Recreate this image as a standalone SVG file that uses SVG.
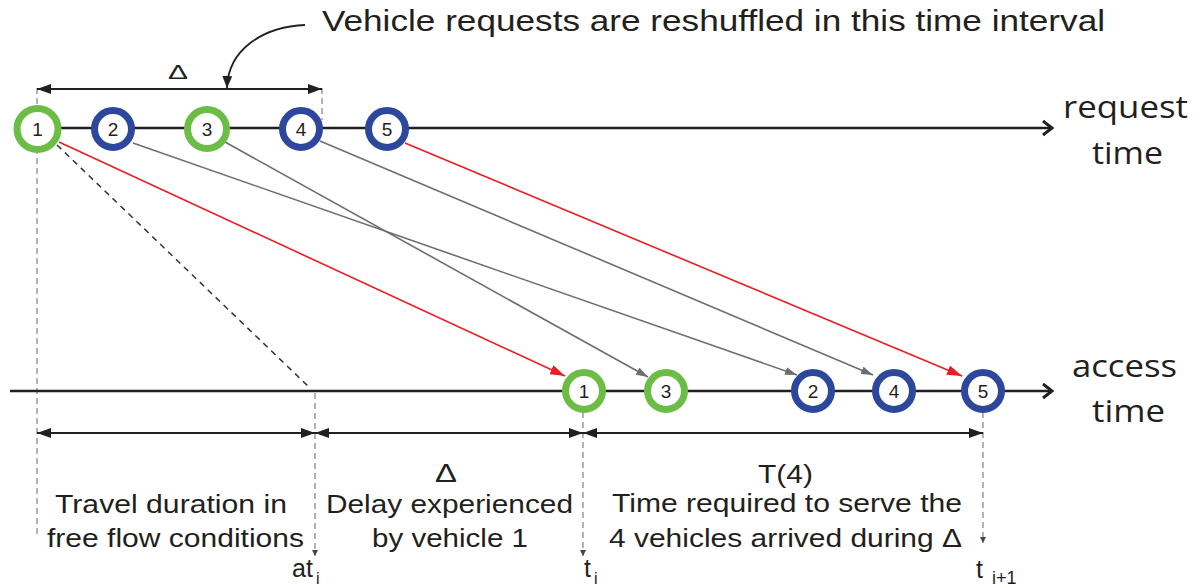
<svg xmlns="http://www.w3.org/2000/svg" width="1203" height="588" viewBox="0 0 1203 588">
  <style>
    .lbl { font-family: "Liberation Sans", Arial, sans-serif; fill: #231f20; }
    .axis-lbl { font-family: "Open Sans", "Noto Sans", sans-serif; fill: #231f20; font-size: 31px; text-anchor: middle; }
    .num { font-family: "Liberation Sans", Arial, sans-serif; font-size: 19px; fill: #231f20; text-anchor: middle; }
    .ring-g { fill: #ffffff; stroke: #6cbd45; stroke-width: 7; }
    .ring-b { fill: #ffffff; stroke: #2c479c; stroke-width: 7; }
    .guide { fill: none; stroke: #808080; stroke-width: 1.2; stroke-dasharray: 6 4; }
    .dim { fill: none; stroke: #231f20; stroke-width: 1.8; }
    .axis { fill: none; stroke: #231f20; stroke-width: 2.6; }
    .req-red { fill: none; stroke: #ec1c24; stroke-width: 1.6; }
    .req-gray { fill: none; stroke: #6d6e71; stroke-width: 1.6; }
  </style>
  <defs>
    <marker id="dimHead" viewBox="0 0 14 10" refX="14" refY="5" markerWidth="14" markerHeight="10" markerUnits="userSpaceOnUse" orient="auto-start-reverse">
      <path d="M0,0 L14,5 L0,10 z" fill="#231f20"/>
    </marker>
    <marker id="axisHead" viewBox="0 0 14 18" refX="11" refY="9" markerWidth="14" markerHeight="18" markerUnits="userSpaceOnUse" orient="auto">
      <path d="M2,2 L11,9 L2,16" fill="none" stroke="#231f20" stroke-width="3"/>
    </marker>
    <marker id="redHead" viewBox="0 0 15 10" refX="15" refY="5" markerWidth="15" markerHeight="10" markerUnits="userSpaceOnUse" orient="auto">
      <path d="M0,0 L15,5 L0,10 z" fill="#ec1c24"/>
    </marker>
    <marker id="grayHead" viewBox="0 0 12 8" refX="12" refY="4" markerWidth="12" markerHeight="8" markerUnits="userSpaceOnUse" orient="auto">
      <path d="M0,0 L12,4 L0,8 z" fill="#6d6e71"/>
    </marker>
    <marker id="curveHead" viewBox="0 0 12 10" refX="12" refY="5" markerWidth="12" markerHeight="10" markerUnits="userSpaceOnUse" orient="auto">
      <path d="M0,0 L12,5 L0,10 z" fill="#231f20"/>
    </marker>
    <marker id="tick" viewBox="0 0 6 6" refX="6" refY="3" markerWidth="6" markerHeight="6" markerUnits="userSpaceOnUse" orient="auto">
      <path d="M0,0 L6,3 L0,6 z" fill="#444"/>
    </marker>
  </defs>

  <rect x="0" y="0" width="1203" height="588" fill="#ffffff"/>

  <!-- heading with its curved pointer -->
  <text class="lbl" x="322" y="31" font-size="29" textLength="783" lengthAdjust="spacingAndGlyphs">Vehicle requests are reshuffled in this time interval</text>

  <g id="connectors">
    <!-- dashed guide lines -->
    <line class="guide" x1="37" y1="88" x2="37" y2="538"/>
    <line class="guide" x1="322" y1="88" x2="322" y2="120"/>
    <line class="guide" x1="315" y1="393" x2="315" y2="556" marker-end="url(#tick)"/>
    <line class="guide" x1="583" y1="412" x2="583" y2="556" marker-end="url(#tick)"/>
    <line class="guide" x1="983" y1="412" x2="983" y2="543" marker-end="url(#tick)"/>

    <!-- time axes -->
    <line class="axis" x1="40" y1="128" x2="1052" y2="128" marker-end="url(#axisHead)"/>
    <line class="axis" x1="10" y1="391" x2="1052" y2="391" marker-end="url(#axisHead)"/>

    <!-- interval dimensions -->
    <line class="dim" x1="37" y1="89" x2="322" y2="89" marker-start="url(#dimHead)" marker-end="url(#dimHead)"/>
    <line class="dim" x1="37" y1="433" x2="315" y2="433" marker-start="url(#dimHead)" marker-end="url(#dimHead)"/>
    <line class="dim" x1="315" y1="433" x2="583" y2="433" marker-start="url(#dimHead)" marker-end="url(#dimHead)"/>
    <line class="dim" x1="583" y1="433" x2="983" y2="433" marker-start="url(#dimHead)" marker-end="url(#dimHead)"/>

    <!-- pointer from the heading to the interval -->
    <path d="M305,25 C262,27 228,50 227,88" fill="none" stroke="#231f20" stroke-width="1.8" marker-end="url(#curveHead)"/>

    <!-- free flow travel of vehicle 1 -->
    <line x1="57" y1="145" x2="310" y2="388" fill="none" stroke="#333" stroke-width="1.5" stroke-dasharray="6 5"/>

    <!-- request to access mapping -->
    <line class="req-red" x1="59" y1="142" x2="565" y2="376" marker-end="url(#redHead)"/>
    <line class="req-gray" x1="133" y1="143" x2="797" y2="375" marker-end="url(#grayHead)"/>
    <line class="req-gray" x1="225" y1="142" x2="648" y2="377" marker-end="url(#grayHead)"/>
    <line class="req-gray" x1="320" y1="141" x2="873" y2="375" marker-end="url(#grayHead)"/>
    <line class="req-red" x1="405" y1="143" x2="962" y2="376" marker-end="url(#redHead)"/>
  </g>

  <!-- request time nodes -->
  <g id="req1"><circle class="ring-g" cx="37.5" cy="129" r="20.5"/><text class="num" x="37.5" y="136">1</text></g>
  <g id="req2"><circle class="ring-b" cx="113" cy="129" r="18.5"/><text class="num" x="113" y="136">2</text></g>
  <g id="req3"><circle class="ring-g" cx="207" cy="129" r="19.5"/><text class="num" x="207" y="136">3</text></g>
  <g id="req4"><circle class="ring-b" cx="301" cy="129" r="18.5"/><text class="num" x="301" y="136">4</text></g>
  <g id="req5"><circle class="ring-b" cx="387" cy="129" r="18.5"/><text class="num" x="387" y="136">5</text></g>

  <!-- access time nodes -->
  <g id="acc1"><circle class="ring-g" cx="584" cy="391" r="18.5"/><text class="num" x="584" y="398">1</text></g>
  <g id="acc3"><circle class="ring-g" cx="666" cy="391" r="18.5"/><text class="num" x="666" y="398">3</text></g>
  <g id="acc2"><circle class="ring-b" cx="813" cy="391" r="18.5"/><text class="num" x="813" y="398">2</text></g>
  <g id="acc4"><circle class="ring-b" cx="894" cy="391" r="18.5"/><text class="num" x="894" y="398">4</text></g>
  <g id="acc5"><circle class="ring-b" cx="983" cy="391" r="18.5"/><text class="num" x="983" y="398">5</text></g>

  <!-- axis names -->
  <g id="axis-labels">
    <text class="axis-lbl" x="1125.5" y="118" textLength="125" lengthAdjust="spacingAndGlyphs">request</text>
    <text class="axis-lbl" x="1127.5" y="164" textLength="71" lengthAdjust="spacingAndGlyphs">time</text>
    <text class="axis-lbl" x="1124.5" y="377" textLength="105" lengthAdjust="spacingAndGlyphs">access</text>
    <text class="axis-lbl" x="1128.5" y="422" textLength="73" lengthAdjust="spacingAndGlyphs">time</text>
  </g>

  <!-- interval labels -->
  <g id="interval-labels">
    <text class="lbl" x="168" y="79" font-size="21" textLength="20" lengthAdjust="spacingAndGlyphs">Δ</text>

    <text class="lbl" x="55" y="513" font-size="26" textLength="232" lengthAdjust="spacingAndGlyphs">Travel duration in</text>
    <text class="lbl" x="47" y="547" font-size="26" textLength="257" lengthAdjust="spacingAndGlyphs">free flow conditions</text>

    <text class="lbl" x="435" y="482" font-size="25" textLength="22" lengthAdjust="spacingAndGlyphs">Δ</text>
    <text class="lbl" x="326" y="513" font-size="26" textLength="247" lengthAdjust="spacingAndGlyphs">Delay experienced</text>
    <text class="lbl" x="372" y="547" font-size="26" textLength="156" lengthAdjust="spacingAndGlyphs">by vehicle 1</text>

    <text class="lbl" x="758" y="483" font-size="26" textLength="55" lengthAdjust="spacingAndGlyphs">T(4)</text>
    <text class="lbl" x="612" y="512" font-size="26" textLength="350" lengthAdjust="spacingAndGlyphs">Time required to serve the</text>
    <text class="lbl" x="609" y="547" font-size="26" textLength="353" lengthAdjust="spacingAndGlyphs">4 vehicles arrived during Δ</text>
  </g>

  <!-- instants on the access axis -->
  <g id="instants">
    <text class="lbl" x="292" y="577" font-size="25">at</text>
    <text class="lbl" x="316" y="584" font-size="16">i</text>
    <text class="lbl" x="584" y="577" font-size="25">t</text>
    <text class="lbl" x="594" y="584" font-size="16">i</text>
    <text class="lbl" x="976" y="578" font-size="25">t</text>
    <text class="lbl" x="992" y="584" font-size="18">i+1</text>
  </g>
</svg>
